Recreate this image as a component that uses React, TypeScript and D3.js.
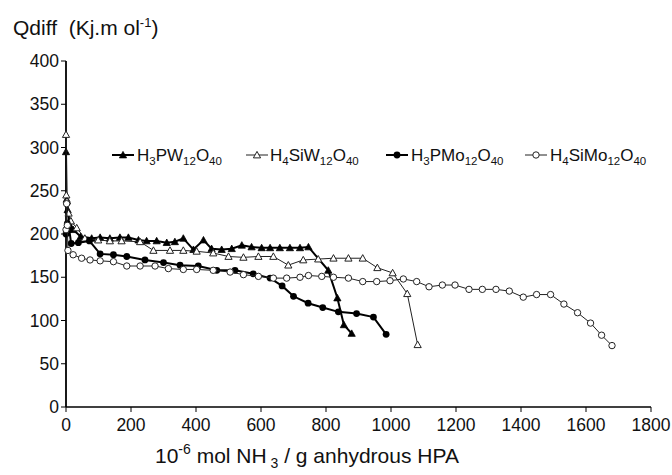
import React from "react";
import * as d3 from "d3";

const xTicks = [0, 200, 400, 600, 800, 1000, 1200, 1400, 1600, 1800];
const yTicks = [0, 50, 100, 150, 200, 250, 300, 350, 400];

const pwX = [0, 2, 5, 10, 22, 45, 79, 105, 135, 166, 192, 223, 248, 279, 310, 335, 361, 392, 423, 448, 479, 510, 541, 571, 602, 628, 658, 689, 720, 746, 807, 835, 855, 879];
const pwY = [295, 240, 228, 215, 205, 197, 195, 196, 195, 196, 196, 193, 192, 192, 190, 191, 195, 182, 193, 183, 182, 183, 187, 185, 184, 184, 184, 184, 184, 185, 158, 126, 95, 85];

const swX = [0, 1, 3, 8, 15, 33, 58, 99, 135, 171, 228, 269, 320, 361, 402, 453, 500, 546, 592, 638, 684, 730, 776, 823, 869, 913, 958, 1005, 1050, 1082];
const swY = [315, 245, 238, 224, 215, 207, 195, 193, 192, 192, 191, 181, 181, 181, 180, 178, 174, 173, 174, 174, 164, 170, 171, 172, 172, 172, 161, 155, 131, 72];

const pmoX = [0, 4, 10, 16, 38, 72, 105, 146, 187, 243, 300, 351, 407, 464, 520, 576, 628, 665, 700, 745, 790, 838, 894, 946, 985];
const pmoY = [200, 212, 205, 189, 190, 192, 177, 176, 174, 170, 167, 164, 163, 158, 158, 154, 149, 140, 128, 120, 115, 110, 108, 104, 84];

const smoX = [0, 2, 4, 6, 22, 48, 74, 105, 146, 187, 228, 274, 315, 361, 402, 453, 505, 546, 592, 638, 679, 720, 746, 787, 823, 869, 913, 956, 997, 1038, 1079, 1117, 1158, 1197, 1240, 1281, 1323, 1364, 1407, 1448, 1491, 1532, 1574, 1614, 1648, 1680];
const smoY = [205, 235, 210, 181, 176, 172, 170, 169, 168, 163, 163, 163, 160, 159, 159, 158, 156, 153, 151, 149, 149, 150, 152, 151, 150, 149, 145, 145, 146, 148, 145, 139, 141, 141, 136, 136, 136, 134, 127, 130, 130, 119, 109, 97, 83, 71];

type Marker = "triFill" | "triOpen" | "circFill" | "circOpen";

const seriesDefs = [
  { key: "pw", xs: pwX, ys: pwY, marker: "triFill" as Marker, width: 2, color: "#000", label: ["H", "3", "PW", "12", "O", "40"] },
  { key: "sw", xs: swX, ys: swY, marker: "triOpen" as Marker, width: 1, color: "#222", label: ["H", "4", "SiW", "12", "O", "40"] },
  { key: "pmo", xs: pmoX, ys: pmoY, marker: "circFill" as Marker, width: 2, color: "#000", label: ["H", "3", "PMo", "12", "O", "40"] },
  { key: "smo", xs: smoX, ys: smoY, marker: "circOpen" as Marker, width: 1, color: "#222", label: ["H", "4", "SiMo", "12", "O", "40"] },
];

const W = 672;
const H = 475;
const m = { left: 66, right: 21, top: 61, bottom: 68 };
const FONT = "'Liberation Sans', Arial, Helvetica, sans-serif";

function MarkerShape({ type, x, y }: { type: Marker; x: number; y: number }) {
  const s = 3.6;
  if (type === "triFill" || type === "triOpen") {
    const p = `M${x},${y - s} L${x + s},${y + s * 0.8} L${x - s},${y + s * 0.8} Z`;
    return type === "triFill" ? (
      <path d={p} fill="#000" stroke="#000" strokeWidth={0.8} />
    ) : (
      <path d={p} fill="#fff" stroke="#222" strokeWidth={1} />
    );
  }
  return type === "circFill" ? (
    <circle cx={x} cy={y} r={3.4} fill="#000" />
  ) : (
    <circle cx={x} cy={y} r={3.2} fill="#fff" stroke="#222" strokeWidth={1} />
  );
}

export default function App() {
  const x = d3.scaleLinear().domain([0, 1800]).range([m.left, W - m.right]);
  const y = d3.scaleLinear().domain([0, 400]).range([H - m.bottom, m.top]);
  const line = d3
    .line<[number, number]>()
    .x((d) => x(d[0]))
    .y((d) => y(d[1]));

  const legendPos = [
    { sx: 112, tx: 137 },
    { sx: 246, tx: 270 },
    { sx: 386, tx: 411 },
    { sx: 525, tx: 550 },
  ];
  const legendY = 155;

  return (
    <svg
      width={W}
      height={H}
      style={{ position: "absolute", left: 0, top: 0, background: "#fff" }}
      fontFamily={FONT}
    >
      <rect x={0} y={0} width={W} height={H} fill="#fff" />
      {/* axes */}
      <line x1={x(0)} x2={x(1800)} y1={y(0)} y2={y(0)} stroke="#000" strokeWidth={1.3} />
      <line x1={x(0)} x2={x(0)} y1={y(0)} y2={y(400)} stroke="#000" strokeWidth={1.8} />
      {xTicks.map((t) => (
        <g key={"xt" + t}>
          <line x1={x(t)} x2={x(t)} y1={y(0)} y2={y(0) + 5} stroke="#000" strokeWidth={1} />
          <text x={x(t)} y={y(0) + 24} textAnchor="middle" fontSize={17.5} fill="#111">
            {t}
          </text>
        </g>
      ))}
      {yTicks.map((t) => (
        <g key={"yt" + t}>
          <line x1={x(0) - 5} x2={x(0)} y1={y(t)} y2={y(t)} stroke="#000" strokeWidth={1} />
          <text x={x(0) - 7} y={y(t) + 6} textAnchor="end" fontSize={17.5} fill="#111">
            {t}
          </text>
        </g>
      ))}
      {/* series */}
      {seriesDefs.map((s) => {
        const pts = s.xs.map((v, i) => [v, s.ys[i]] as [number, number]);
        return (
          <g key={s.key}>
            <path d={line(pts) || ""} fill="none" stroke={s.color} strokeWidth={s.width} />
            {pts.map((p, i) => (
              <MarkerShape key={i} type={s.marker} x={x(p[0])} y={y(p[1])} />
            ))}
          </g>
        );
      })}
      {/* legend */}
      {seriesDefs.map((s, i) => {
        const lp = legendPos[i];
        return (
          <g key={"lg" + s.key}>
            <line x1={lp.sx} x2={lp.sx + 22} y1={legendY} y2={legendY} stroke={s.color} strokeWidth={s.width} />
            <MarkerShape type={s.marker} x={lp.sx + 11} y={legendY} />
            <text x={lp.tx} y={legendY + 6} fontSize={17} fill="#111">
              <tspan>{s.label[0]}</tspan>
              <tspan fontSize={11.5} dy={4}>{s.label[1]}</tspan>
              <tspan dy={-4}>{s.label[2]}</tspan>
              <tspan fontSize={11.5} dy={4}>{s.label[3]}</tspan>
              <tspan dy={-4}>{s.label[4]}</tspan>
              <tspan fontSize={11.5} dy={4}>{s.label[5]}</tspan>
            </text>
          </g>
        );
      })}
      {/* titles */}
      <text x={13} y={35} fontSize={21} fill="#111" style={{ whiteSpace: "pre" }}>
        <tspan>{"Qdiff  (Kj.m ol"}</tspan>
        <tspan fontSize={13} dy={-8}>{"-1"}</tspan>
        <tspan dy={8}>{")"}</tspan>
      </text>
      <text x={155} y={463} fontSize={21} fill="#111" style={{ whiteSpace: "pre" }}>
        <tspan>{"10"}</tspan>
        <tspan fontSize={14} dy={-9}>{"-6"}</tspan>
        <tspan dy={9}>{" mol NH"}</tspan>
        <tspan fontSize={14} dy={5}>{" 3"}</tspan>
        <tspan dy={-5}>{" / g anhydrous HPA"}</tspan>
      </text>
    </svg>
  );
}
